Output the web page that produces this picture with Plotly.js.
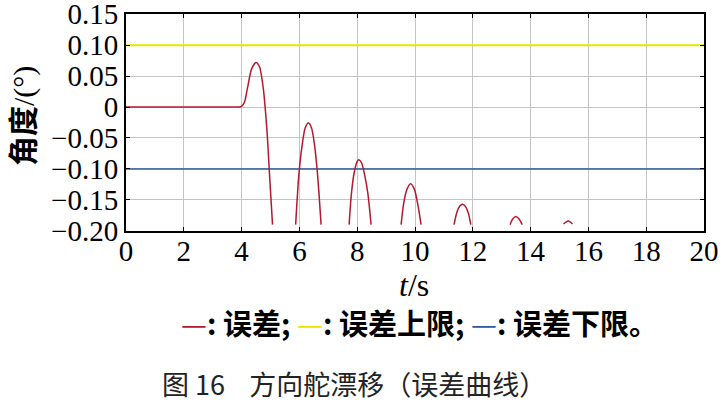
<!DOCTYPE html>
<html><head><meta charset="utf-8">
<script src="https://cdn.plot.ly/plotly-3.0.1.min.js"></script>
<style>body{margin:0;background:#fff}#c{width:720px;height:405px}</style>
</head><body><div id="c"></div>
<script>
// error curve (null = gaps where curve leaves the plotted range)
const errT = [0,2,3.5,3.9,4.0,4.1,4.2,4.35,4.5,4.62,4.75,4.88,4.98,5.07,5.4,
  5.87,5.98,6.1,6.2,6.31,6.42,6.52,6.63,6.75,7.2,
  7.72,7.8,7.9,8.0,8.06,8.15,8.25,8.37,8.48,9.0,
  9.52,9.6,9.72,9.85,9.98,10.1,10.21,10.8,
  11.35,11.45,11.55,11.65,11.75,11.85,11.93,12.6,
  13.29,13.38,13.49,13.6,13.71,14.4,
  15.14,15.22,15.30,15.38,15.45];
const errV = [0,0,0,0,0.001,0.008,0.03,0.062,0.072,0.065,0.03,-0.04,-0.12,-0.19,null,
  -0.19,-0.11,-0.06,-0.034,-0.026,-0.034,-0.06,-0.11,-0.19,null,
  -0.19,-0.14,-0.105,-0.088,-0.085,-0.09,-0.108,-0.14,-0.19,null,
  -0.19,-0.158,-0.133,-0.124,-0.133,-0.158,-0.19,null,
  -0.19,-0.17,-0.16,-0.157,-0.161,-0.172,-0.19,null,
  -0.19,-0.181,-0.177,-0.181,-0.19,null,
  -0.189,-0.186,-0.184,-0.186,-0.189];
const limT = [0,20];
const upper = [0.10,0.10];
const lower = [-0.10,-0.10];
const xTicks = [0,2,4,6,8,10,12,14,16,18,20];
const yTicks = [-0.20,-0.15,-0.10,-0.05,0,0.05,0.10,0.15];
const yTickText = ["\u22120.20","\u22120.15","\u22120.10","\u22120.05","0","0.05","0.10","0.15"];

const traces = [
  {x:limT,y:upper,mode:'lines',line:{color:'#e6e600',width:2},hoverinfo:'skip'},
  {x:limT,y:lower,mode:'lines',line:{color:'#2f5a9a',width:1.5},hoverinfo:'skip'},
  {x:errT,y:errV,mode:'lines',line:{color:'#b3192f',width:1.5,shape:'spline',smoothing:0.7},connectgaps:false}
];
const serif = 'Liberation Serif, Times New Roman, serif';
const cjk = 'Noto Sans CJK SC, sans-serif';
const layout = {
  width:720,height:405,showlegend:false,
  paper_bgcolor:'#fff',plot_bgcolor:'#fff',
  margin:{l:126,r:16,t:14,b:174},
  xaxis:{range:[0,20],tickvals:xTicks,showgrid:true,gridcolor:'#c4c4c4',gridwidth:1,
    showline:true,linecolor:'#000',linewidth:2,mirror:'ticks',ticks:'inside',ticklen:4,tickcolor:'#000',
    zeroline:false,ticklabelstandoff:-7,tickfont:{family:serif,size:29,color:'#000'}},
  yaxis:{range:[-0.2003,0.1503],tickvals:yTicks,ticktext:yTickText,showgrid:true,gridcolor:'#c4c4c4',gridwidth:1,
    showline:true,linecolor:'#000',linewidth:2,mirror:'ticks',ticks:'inside',ticklen:4,tickcolor:'#000',
    zeroline:false,ticklabeloverflow:'allow',tickfont:{family:serif,size:29,color:'#000'}},
  annotations:[
    {xref:'paper',yref:'paper',x:-0.1817,y:0.53,xanchor:'center',yanchor:'middle',showarrow:false,textangle:-90,
     text:'<b>角度</b><span style="font-family:Liberation Serif">/(°)</span>',font:{family:cjk,size:30,color:'#000'}},
    {xref:'paper',yref:'paper',x:0.498,y:-0.248,xanchor:'center',yanchor:'middle',showarrow:false,
     text:'<i>t</i>/s',font:{family:serif,size:32,color:'#000'}},
    {xref:'paper',yref:'paper',x:0.507,y:-0.42,xanchor:'center',yanchor:'middle',showarrow:false,
     text:'<span style="color:#b3192f">—</span><b>: 误差; </b><span style="color:#e6e600">—</span><b>: 误差上限; </b><span style="color:#2f5a9a">—</span><b>: 误差下限。</b>',
     font:{family:cjk,size:29,color:'#000'}},
    {xref:'paper',yref:'paper',x:0.394,y:-0.703,xanchor:'center',yanchor:'middle',showarrow:false,
     text:'图 16    方向舵漂移（误差曲线）',font:{family:cjk,size:27,color:'#222'}}
  ]
};
Plotly.newPlot('c',traces,layout,{staticPlot:true});
</script></body></html>
